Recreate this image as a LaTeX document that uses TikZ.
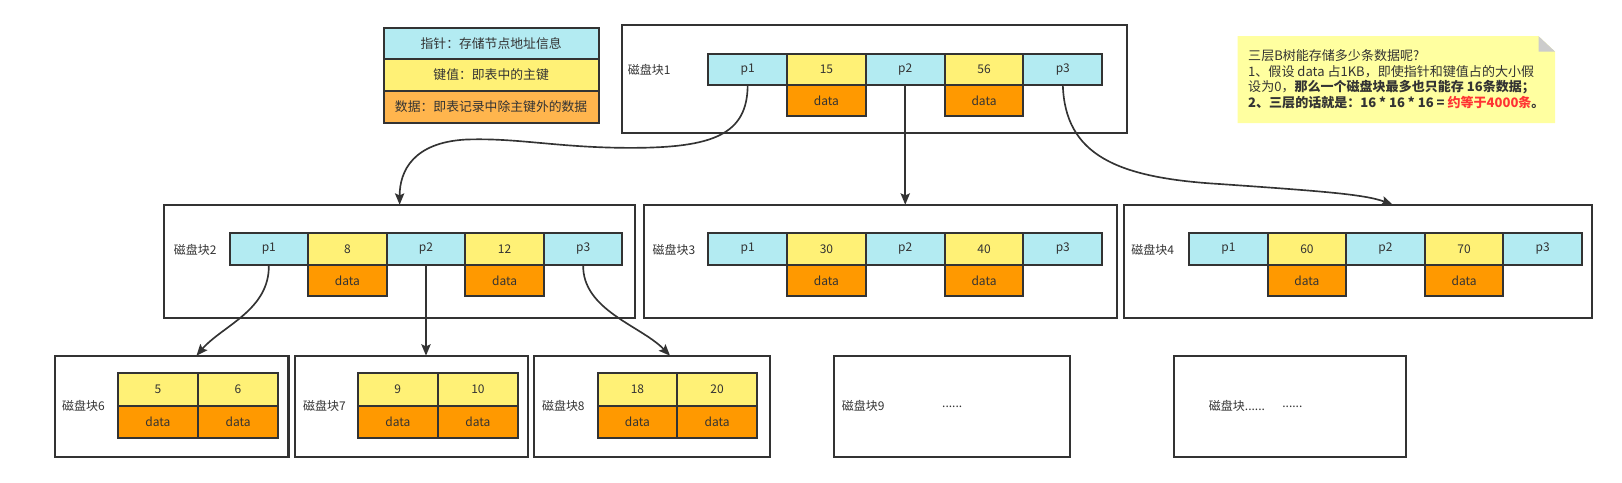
\documentclass[tikz,border=0pt]{standalone}
\usepackage{fontspec}
\setmainfont{Noto Sans CJK SC}
\usetikzlibrary{arrows.meta}
\definecolor{ln}{HTML}{333333}
\definecolor{cy}{HTML}{B3EBF2}
\definecolor{ye}{HTML}{FFF176}
\definecolor{og}{HTML}{FF9900}
\definecolor{lo}{HTML}{FFB54D}
\definecolor{nt}{HTML}{FFFFA0}
\definecolor{fd}{HTML}{CCCCCC}
\definecolor{rd}{HTML}{FF3333}
\tikzset{
 cellbase/.style={draw=ln, line width=2pt, anchor=north west, inner sep=0pt, outer sep=0pt, text=ln, font=\fontsize{11.6}{13}\selectfont},
 pc/.style={cellbase, fill=cy},
 kc/.style={cellbase, fill=ye},
 dc/.style={cellbase, fill=og},
 legc/.style={cellbase, font=\fontsize{12.4}{14}\selectfont},
 blk/.style={draw=ln, line width=2pt, anchor=north west, inner sep=0pt, outer sep=0pt},
 lbl/.style={anchor=west, inner sep=0pt, text=ln, font=\fontsize{11.6}{13}\selectfont},
 ntxt/.style={anchor=west, inner sep=0pt, text=ln, font=\fontsize{12.6}{15}\selectfont},
 arr/.style={draw=ln, line width=1.6pt, -{Stealth[length=11pt,width=9pt,inset=2pt]}},
}
\newcommand\mkcell[7]{\node[#1, minimum width=#5pt, minimum height=#6pt] (#2) at (#3,#4) {#7};}
\begin{document}
\begin{tikzpicture}[x=1pt,y=-1pt]
\useasboundingbox (0,0) rectangle (1568.7,467.1);
% legend
\mkcell{legc,fill=cy}{lg1}{371}{27.4}{208}{30}{指针：存储节点地址信息}
\mkcell{legc,fill=ye}{lg2}{371}{57.4}{208}{30.3}{键值：即表中的主键}
\mkcell{legc,fill=lo}{lg3}{371}{87.7}{208}{31}{数据：即表记录中除主键外的数据}
% note
\fill[nt] (1197,35) -- (1488,35) -- (1504,50) -- (1504,119) -- (1197,119) -- cycle;
\fill[fd] (1488,35) -- (1488,50) -- (1504,50) -- cycle;
\node[ntxt] (n1) at (1207,54) {三层B树能存储多少条数据呢?};
\node[ntxt] (n2) at (1207,69.2) {1、假设 data 占1KB，即使指针和键值占的大小假};
\node[ntxt] (n3) at (1207,84.3) {设为0，\textbf{那么一个磁盘块最多也只能存 16条数据；}};
\node[ntxt] (n4) at (1207,99.5) {\textbf{2、三层的话就是：16 * 16 * 16 = \textcolor{rd}{约等于4000条}。}};
% blocks
\node[blk, minimum width=488pt, minimum height=105pt] (blk1) at (602,24) {};
\node[blk, minimum width=455pt, minimum height=110pt] (blk2) at (159,198) {};
\node[blk, minimum width=457pt, minimum height=110pt] (blk3) at (623,198) {};
\node[blk, minimum width=453pt, minimum height=110pt] (blk4) at (1087,198) {};
\node[blk, minimum width=226pt, minimum height=98pt] (blk6) at (53,344) {};
\node[blk, minimum width=226pt, minimum height=98pt] (blk7) at (285,344) {};
\node[blk, minimum width=229pt, minimum height=98pt] (blk8) at (516,344) {};
\node[blk, minimum width=228pt, minimum height=98pt] (blk9) at (807,344) {};
\node[blk, minimum width=225pt, minimum height=98pt] (blk10) at (1135,344) {};
% labels
\node[lbl] (l1) at (607,67.7) {磁盘块1};
\node[lbl] (l2) at (168,241.5) {磁盘块2};
\node[lbl] (l3) at (631,241.5) {磁盘块3};
\node[lbl] (l4) at (1094,241.5) {磁盘块4};
\node[lbl] (l6) at (60,393) {磁盘块6};
\node[lbl] (l7) at (293,393) {磁盘块7};
\node[lbl] (l8) at (524,393) {磁盘块8};
\node[lbl] (l9) at (814,393) {磁盘块9};
\node[lbl] (l9b) at (911,393) {......};
\node[lbl] (l10) at (1169,393) {磁盘块......};
\node[lbl] (l10b) at (1240,393) {......};
% block 1 cells
\mkcell{pc}{b1p1}{685}{52}{76.2}{30}{p1}
\mkcell{kc}{b1k1}{761.2}{52}{76.2}{30}{15}
\mkcell{pc}{b1p2}{837.4}{52}{76.2}{30}{p2}
\mkcell{kc}{b1k2}{913.6}{52}{76.2}{30}{56}
\mkcell{pc}{b1p3}{989.8}{52}{76.2}{30}{p3}
\mkcell{dc}{b1d1}{761.2}{82}{76.2}{30.5}{data}
\mkcell{dc}{b1d2}{913.6}{82}{76.2}{30.5}{data}
% block 2 cells
\mkcell{pc}{b2p1}{222}{225.5}{76}{30.5}{p1}
\mkcell{kc}{b2k1}{298}{225.5}{76}{30.5}{8}
\mkcell{pc}{b2p2}{374}{225.5}{76}{30.5}{p2}
\mkcell{kc}{b2k2}{450}{225.5}{76}{30.5}{12}
\mkcell{pc}{b2p3}{526}{225.5}{76}{30.5}{p3}
\mkcell{dc}{b2d1}{298}{256}{76}{30.5}{data}
\mkcell{dc}{b2d2}{450}{256}{76}{30.5}{data}
% block 3 cells
\mkcell{pc}{b3p1}{685}{225.5}{76.2}{30.5}{p1}
\mkcell{kc}{b3k1}{761.2}{225.5}{76.2}{30.5}{30}
\mkcell{pc}{b3p2}{837.4}{225.5}{76.2}{30.5}{p2}
\mkcell{kc}{b3k2}{913.6}{225.5}{76.2}{30.5}{40}
\mkcell{pc}{b3p3}{989.8}{225.5}{76.2}{30.5}{p3}
\mkcell{dc}{b3d1}{761.2}{256}{76.2}{30.5}{data}
\mkcell{dc}{b3d2}{913.6}{256}{76.2}{30.5}{data}
% block 4 cells
\mkcell{pc}{b4p1}{1150}{225.5}{76}{30.5}{p1}
\mkcell{kc}{b4k1}{1226}{225.5}{76}{30.5}{60}
\mkcell{pc}{b4p2}{1302}{225.5}{76}{30.5}{p2}
\mkcell{kc}{b4k2}{1378}{225.5}{76}{30.5}{70}
\mkcell{pc}{b4p3}{1454}{225.5}{76}{30.5}{p3}
\mkcell{dc}{b4d1}{1226}{256}{76}{30.5}{data}
\mkcell{dc}{b4d2}{1378}{256}{76}{30.5}{data}
% level 3 cells
\mkcell{kc}{b6k1}{114}{361}{77.5}{31.5}{5}
\mkcell{kc}{b6k2}{191.5}{361}{77.5}{31.5}{6}
\mkcell{dc}{b6d1}{114}{392.5}{77.5}{31}{data}
\mkcell{dc}{b6d2}{191.5}{392.5}{77.5}{31}{data}
\mkcell{kc}{b7k1}{346}{361}{77.5}{31.5}{9}
\mkcell{kc}{b7k2}{423.5}{361}{77.5}{31.5}{10}
\mkcell{dc}{b7d1}{346}{392.5}{77.5}{31}{data}
\mkcell{dc}{b7d2}{423.5}{392.5}{77.5}{31}{data}
\mkcell{kc}{b8k1}{578}{361}{77}{31.5}{18}
\mkcell{kc}{b8k2}{655}{361}{77}{31.5}{20}
\mkcell{dc}{b8d1}{578}{392.5}{77}{31}{data}
\mkcell{dc}{b8d2}{655}{392.5}{77}{31}{data}
% connectors
\coordinate (in4) at (1347,198);
\coordinate (in6) at (190,344);
\coordinate (in8) at (648,344);
\draw[arr] (b1p1.south) .. controls (723,130) and (690,143) .. (610,143) .. controls (540,143) and (500,133) .. (450,135) .. controls (400,138) and (386.5,165) .. (blk2.north);
\draw[arr] (b1p2.south) -- (b1p2.south |- blk3.north);
\draw[arr] (b1p3.south) .. controls (1030,150) and (1080,172) .. (1180,178) .. controls (1280,185) and (1320,188) .. (in4);
\draw[arr] (b2p1.south) .. controls (261,300) and (215,315) .. (in6);
\draw[arr] (b2p2.south) -- (b2p2.south |- blk7.north);
\draw[arr] (b2p3.south) .. controls (563,300) and (620,315) .. (in8);
\end{tikzpicture}
\end{document}
